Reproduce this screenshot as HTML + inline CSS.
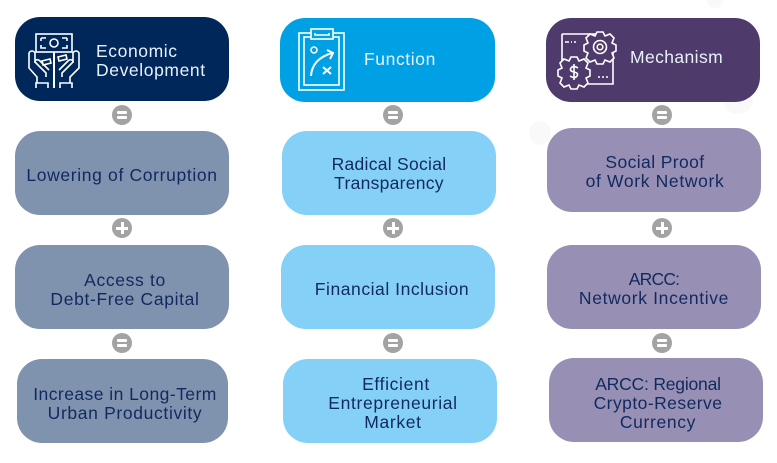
<!DOCTYPE html>
<html><head><meta charset="utf-8"><style>
html,body{margin:0;padding:0;background:#fff}
#c{position:relative;width:777px;height:463px;overflow:hidden;background:#fff;font-family:"Liberation Sans",sans-serif}
.b{position:absolute;border-radius:25px;box-sizing:border-box}
.t{position:absolute;font-size:17.5px;line-height:19px;letter-spacing:.65px;color:#12295f;text-align:center;white-space:nowrap;transform:translateX(-50%)}
.h{position:absolute;font-size:17.5px;line-height:19px;letter-spacing:.6px;color:#e8f1fb;white-space:nowrap}
.d{position:absolute;border-radius:50%;background:#a3a3a3;width:20px;height:20px}
.d:before{content:"";position:absolute;left:5px;top:6px;width:10px;height:3px;background:#fff;border-radius:1px;box-shadow:0 5px 0 #fff}
.p{position:absolute;border-radius:50%;background:#a3a3a3;width:20px;height:20px}
.p:before{content:"";position:absolute;left:4px;top:8.5px;width:12px;height:3px;background:#fff}
.p:after{content:"";position:absolute;left:8.5px;top:4px;width:3px;height:12px;background:#fff}
.g{position:absolute;border-radius:50%;background:#f9f9f9}
svg{position:absolute;fill:none;stroke:#fff;stroke-width:1.6}
</style></head><body><div id="c">
<div class="g" style="left:707px;top:-8px;width:16px;height:16px"></div>
<div class="g" style="left:723px;top:84px;width:30px;height:30px"></div>
<div class="g" style="left:529px;top:121px;width:22px;height:24px"></div>

<div class="b" style="left:15px;top:17px;width:214px;height:84px;background:#00275a"></div>
<div class="b" style="left:280px;top:18px;width:215px;height:84px;background:#00a0e4"></div>
<div class="b" style="left:546px;top:18px;width:214px;height:84px;background:#4e3b6b"></div>

<div class="b" style="left:15px;top:131px;width:214px;height:84px;background:#7f93ae"></div>
<div class="b" style="left:15px;top:245px;width:214px;height:84px;background:#7f93ae"></div>
<div class="b" style="left:17px;top:359px;width:211px;height:84px;background:#7f93ae"></div>
<div class="b" style="left:282px;top:131px;width:214px;height:84px;background:#84d0f6"></div>
<div class="b" style="left:281px;top:245px;width:214px;height:84px;background:#84d0f6"></div>
<div class="b" style="left:283px;top:359px;width:214px;height:84px;background:#84d0f6"></div>
<div class="b" style="left:547px;top:128px;width:214px;height:84px;background:#9790b4"></div>
<div class="b" style="left:547px;top:245px;width:214px;height:84px;background:#9790b4"></div>
<div class="b" style="left:549px;top:358px;width:214px;height:84px;background:#9790b4"></div>

<div class="h" style="left:96px;top:42px">Economic</div>
<div class="h" style="left:96px;top:61px">Development</div>
<div class="h" style="left:364px;top:50px">Function</div>
<div class="h" style="left:630px;top:48px;letter-spacing:.4px">Mechanism</div>

<div class="t" style="left:122px;top:166px">Lowering of Corruption</div>
<div class="t" style="left:125px;top:271px">Access to<br>Debt-Free Capital</div>
<div class="t" style="left:125px;top:385px"><span style="letter-spacing:.45px">Increase in Long-Term</span><br>Urban Productivity</div>
<div class="t" style="left:389px;top:155px;letter-spacing:.28px">Radical Social<br>Transparency</div>
<div class="t" style="left:392px;top:280px;letter-spacing:.55px">Financial Inclusion</div>
<div class="t" style="left:393px;top:375px"><span style="position:relative;left:3px">Efficient</span><br>Entrepreneurial<br>Market</div>
<div class="t" style="left:655px;top:153px"><span style="letter-spacing:.4px">Social Proof</span><br>of Work Network</div>
<div class="t" style="left:654px;top:270px"><span style="letter-spacing:-.8px">ARCC:</span><br>Network Incentive</div>
<div class="t" style="left:658px;top:375px"><span style="letter-spacing:-.2px">ARCC: Regional</span><br><span style="letter-spacing:.45px">Crypto-Reserve</span><br>Currency</div>

<div class="d" style="left:112px;top:105px"></div>
<div class="p" style="left:112px;top:218px"></div>
<div class="d" style="left:112px;top:333px"></div>
<div class="d" style="left:383px;top:105px"></div>
<div class="p" style="left:383px;top:218px"></div>
<div class="d" style="left:383px;top:333px"></div>
<div class="d" style="left:652px;top:105px"></div>
<div class="p" style="left:652px;top:218px"></div>
<div class="d" style="left:652px;top:333px"></div>

<svg style="left:0;top:0" width="777" height="463" viewBox="0 0 777 463">
<!-- money hands -->
<rect x="36" y="34" width="36" height="18"/>
<path d="M41 38h5M41 38v3M41 45v3h5M67 38h-5M67 38v3M67 45v3h-5"/>
<circle cx="54" cy="43" r="4"/>
<path d="M54 52v36" stroke-width="2"/>
<path d="M36 88v-5h12v5M60 88v-5h12v5"/>
<path d="M37 83v-6l-8-9v-15q1-2 3-2t3 2v10M70 83v-6l9-9v-15q-1-2-3-2t-3 2v10"/>
<path d="M46 77v-4l-10-10q-2-2 0-3t4 1l9 9M62 77v-4l10-10q2-2 0-3t-4 1l-9 9"/>
<path d="M42 61l8-2 1 4-8 2zM58 57l8-2 1 4-8 2z"/>
<!-- clipboard -->
<rect x="299" y="33" width="45" height="57"/>
<rect x="304" y="37" width="35" height="48"/>
<rect x="311" y="29" width="22" height="10" fill="#00a0e4"/>
<path d="M315 33v2h14v-2"/>
<circle cx="314" cy="50" r="3"/>
<path d="M311 76q1-17 21-23M327 50l6 3-3 6M323 67l8 7M331 67l-8 7" stroke-width="2"/>
<!-- gears -->
<path d="M562 34h38M562 34v47M613 50v34h-28"/>
<path d="M565 42h4M571 42h1M574 42h2M598 77h2M602 77h2M606 77h2"/>
<g transform="translate(600 47)"><path fill="#4e3b6b" d="M-3 -15h6l2 4 5-2 4 4-2 5 4 2v6l-4 2 2 5-4 4-5-2-2 4h-6l-2-4-5 2-4-4 2-5-4-2v-6l4-2-2-5 4-4 5 2z"/>
<circle r="6.5"/><circle r="2.8"/></g>
<g transform="translate(574 72)"><path fill="#4e3b6b" d="M-3 -15h6l2 4 5-2 4 4-2 5 4 2v6l-4 2 2 5-4 4-5-2-2 4h-6l-2-4-5 2-4-4 2-5-4-2v-6l4-2-2-5 4-4 5 2z"/>
<path d="M4 -4q-5-3-7 0t3 4 3 4-7 0M0 -8v16"/></g>
</svg>
</div></body></html>
